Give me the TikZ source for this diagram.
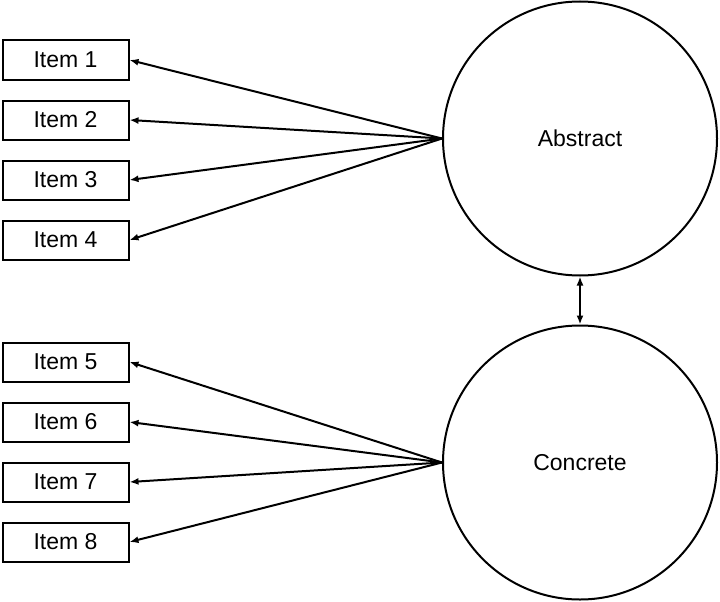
\documentclass[tikz,border=0pt]{standalone}
\usepackage{fontspec}
\setmainfont{Liberation Sans}
\usetikzlibrary{arrows.meta}
\begin{document}
\begin{tikzpicture}[x=1pt,y=-1pt,
  itembox/.style={draw,line width=2pt,minimum width=126pt,minimum height=39pt,inner sep=0pt,font=\fontsize{23}{27}\selectfont},
  factor/.style={draw,circle,line width=2pt,minimum size=274pt,inner sep=0pt,font=\fontsize{23}{27}\selectfont},
  link/.style={line width=2pt,-{Latex[length=9pt,width=7pt]}},
  both/.style={line width=2pt,{Latex[length=9pt,width=7pt]}-{Latex[length=9pt,width=7pt]}}]
\useasboundingbox (0,0) rectangle (720,602);
\node[factor] (abs) at (580,138.5) {Abstract};
\node[factor] (con) at (580,462.5) {Concrete};
\foreach \i/\y in {1/60,2/120,3/180,4/240,5/362,6/422,7/482,8/542}{
  \node[itembox] (i\i) at (65.5,\y) {Item \i};
}
\foreach \i in {1,2,3,4}{\draw[link] (abs.west) -- (i\i.east);}
\foreach \i in {5,6,7,8}{\draw[link] (con.west) -- (i\i.east);}
\draw[both] (abs.south) -- (con.north);
\end{tikzpicture}
\end{document}
